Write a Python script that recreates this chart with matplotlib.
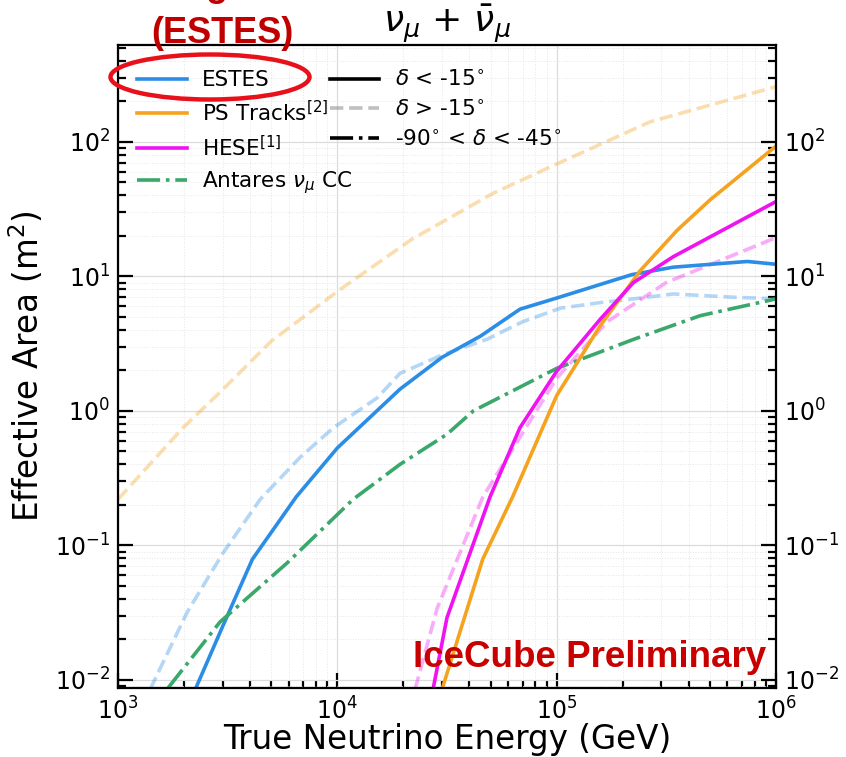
import matplotlib
matplotlib.use("Agg")
import matplotlib.pyplot as plt
from matplotlib.lines import Line2D
from matplotlib.patches import Ellipse

# effective areas (m^2) vs true neutrino energy (GeV)
estes_e = [2250, 3000, 4100, 6500, 10000, 19300, 30000, 45000, 68000, 100000, 220000, 340000, 740000, 1000000]
estes_a = [0.0085, 0.025, 0.079, 0.23, 0.53, 1.45, 2.5, 3.6, 5.7, 6.9, 10.3, 11.7, 12.9, 12.3]

estes_up_e = [1400, 2070, 3000, 4450, 6750, 9600, 15200, 19300, 30000, 48000, 70000, 104000, 160000, 224000, 340000, 640000, 1000000]
estes_up_a = [0.0085, 0.032, 0.087, 0.22, 0.45, 0.75, 1.25, 1.9, 2.6, 3.4, 4.6, 5.8, 6.4, 6.8, 7.4, 7.0, 6.8]

ps_e = [30000, 46000, 63000, 100000, 158000, 240000, 354000, 500000, 1000000]
ps_a = [0.0085, 0.079, 0.23, 1.3, 4.3, 11.0, 22.0, 37.0, 93.0]

ps_up_e = [1000, 1980, 2830, 5000, 10300, 22000, 51400, 93300, 267000, 1000000]
ps_up_a = [0.22, 0.75, 1.31, 3.3, 8.0, 19.0, 41.5, 65.0, 141.0, 257.0]

hese_e = [27300, 31600, 49700, 68000, 100000, 158000, 224000, 340000, 1000000]
hese_a = [0.0085, 0.029, 0.23, 0.75, 1.97, 4.8, 9.0, 14.0, 36.0]

hese_up_e = [22600, 28500, 46100, 100000, 170000, 316000, 1000000]
hese_up_a = [0.0085, 0.034, 0.23, 1.75, 4.6, 9.0, 19.4]

antares_e = [1690, 2920, 5900, 11800, 19300, 31600, 41700, 100000, 224000, 451000, 1000000]
antares_a = [0.0087, 0.027, 0.074, 0.22, 0.4, 0.67, 1.0, 2.07, 3.4, 5.1, 6.8]

c_blue = "#2b8de6"
c_orange = "#f5a31f"
c_magenta = "#f012f0"
c_green = "#3aa86b"
lw = 2.6

fig = plt.figure(figsize=(8.46, 7.57), dpi=100)
ax = fig.add_axes([0.1395, 0.0911, 0.7778, 0.8495])

# light dashed curves (delta > -15 deg) go underneath
ax.plot(ps_up_e, ps_up_a, color=c_orange, ls="--", lw=lw, alpha=0.35)
ax.plot(estes_up_e, estes_up_a, color=c_blue, ls="--", lw=lw, alpha=0.35)
ax.plot(hese_up_e, hese_up_a, color=c_magenta, ls="--", lw=lw, alpha=0.35)

ax.plot(estes_e, estes_a, color=c_blue, lw=lw)
ax.plot(antares_e, antares_a, color=c_green, ls="-.", lw=lw)
ax.plot(ps_e, ps_a, color=c_orange, lw=lw)
ax.plot(hese_e, hese_a, color=c_magenta, lw=lw)

ax.set_xscale("log")
ax.set_yscale("log")
ax.set_xlim(1e3, 1e6)
ax.set_ylim(0.0087, 525)

ax.grid(which="major", color="#dcdcdc", lw=0.9)
ax.grid(which="minor", color="#e6e6e6", lw=0.7, ls=":")
ax.set_axisbelow(True)

ax.tick_params(which="both", direction="in", left=True, right=True, top=False, bottom=True,
               labelright=True, labelsize=17, width=1.6, pad=6)
ax.tick_params(axis="x", which="both", pad=7)
ax.tick_params(which="major", length=11)
ax.tick_params(which="minor", length=5.5)
for s in ax.spines.values():
    s.set_linewidth(1.6)

ax.set_xlabel("True Neutrino Energy (GeV)", fontsize=23.5, labelpad=-1.5)
ax.set_ylabel("Effective Area (m$^2$)", fontsize=23.5, labelpad=6)
ax.set_title(r"$\nu_\mu$ + $\bar{\nu}_\mu$", fontsize=26, pad=6)

# sample legend (colours)
sample_handles = [
    Line2D([], [], color=c_blue, lw=lw, label="ESTES"),
    Line2D([], [], color=c_orange, lw=lw, label="PS Tracks$^{[2]}$"),
    Line2D([], [], color=c_magenta, lw=lw, label="HESE$^{[1]}$"),
    Line2D([], [], color=c_green, lw=lw, ls="-.", label=r"Antares $\nu_\mu$ CC"),
]
leg1 = ax.legend(handles=sample_handles, loc="upper left", bbox_to_anchor=(0.162, 0.9074),
                 bbox_transform=fig.transFigure, frameon=False, fontsize=15.5,
                 handlelength=2.3, handletextpad=0.7, labelspacing=0.45,
                 borderpad=0, borderaxespad=0)
ax.add_artist(leg1)

# declination legend (line styles)
dec_handles = [
    Line2D([], [], color="black", lw=lw, label=r"$\delta$ < -15$^{\circ}$"),
    Line2D([], [], color="gray", lw=lw, ls="--", alpha=0.5, label=r"$\delta$ > -15$^{\circ}$"),
    Line2D([], [], color="black", lw=lw, ls="-.", label=r"-90$^{\circ}$ < $\delta$ < -45$^{\circ}$"),
]
ax.legend(handles=dec_handles, loc="upper left", bbox_to_anchor=(0.39, 0.9074),
          bbox_transform=fig.transFigure, frameon=False, fontsize=15.5,
          handlelength=2.3, handletextpad=0.7, labelspacing=0.45,
          borderpad=0, borderaxespad=0)

ax.text(0.985, 0.032, "IceCube Preliminary", transform=ax.transAxes, ha="right", va="baseline",
        fontsize=26.5, fontweight="bold", color="#c80000", family="Liberation Sans")

# sample name callout above the legend
fig.text(217 / 846, 1 + 4 / 757, "g", ha="center", va="baseline",
         fontsize=26, fontweight="bold", color="#c00000", family="Liberation Sans")
fig.text(222 / 846, 1 - 43 / 757, "(ESTES)", ha="center", va="baseline",
         fontsize=26, fontweight="bold", color="#c00000", family="Liberation Sans")

fig.patches.append(Ellipse((210 / 846, 1 - 77 / 757), 199 / 846, 45 / 757,
                           transform=fig.transFigure, fill=False, edgecolor="#e8101a", lw=3.2))

fig.savefig("out.png", dpi=100)
